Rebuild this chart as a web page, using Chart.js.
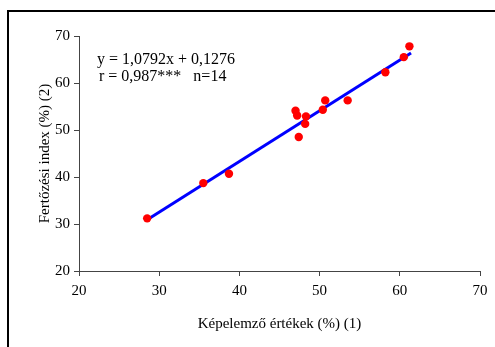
<!DOCTYPE html>
<html>
<head>
<meta charset="utf-8">
<script src="https://cdn.jsdelivr.net/npm/chart.js@4"></script>
<style>
  html, body { margin: 0; padding: 0; background: #fff; overflow: hidden; }
  #frame {
    position: absolute; left: 7px; top: 10px; width: 600px; height: 500px;
    border-left: 2px solid #000; border-top: 2px solid #000;
  }
  #wrap { position: absolute; left: 0; top: 0; width: 495px; height: 347px; }
</style>
</head>
<body>
<div id="frame"></div>
<div id="wrap"><canvas id="chart" width="495" height="347"></canvas></div>
<script>
// Measured points: image analysis value (x) vs infection index (y)
const xValues = [28.5, 35.5, 38.7, 47.0, 47.2, 47.4, 48.3, 48.2, 50.4, 50.7, 53.5, 58.2, 60.5, 61.2];
const yValues = [31.2, 38.7, 40.7, 54.1, 53.1, 48.5, 52.9, 51.3, 54.3, 56.3, 56.3, 62.3, 65.5, 67.8];

// Trend line ends
const fitX = [28.5, 61.4];
const fitY = [30.9, 66.4];

const xTicks = [20, 30, 40, 50, 60, 70];
const yTicks = [20, 30, 40, 50, 60, 70];

const equationText = 'y = 1,0792x + 0,1276';
const statsText = 'r = 0,987***   n=14';

const serif = '"Liberation Serif", "Times New Roman", serif';

const points = xValues.map((x, i) => ({ x: x, y: yValues[i] }));
const fitLine = fitX.map((x, i) => ({ x: x, y: fitY[i] }));

// Equation text in the upper left of the plot
const equationPlugin = {
    id: 'equation',
    afterDraw(chart) {
        const ctx = chart.ctx;
        ctx.save();
        ctx.fillStyle = '#000';
        ctx.font = '16px ' + serif;
        ctx.textBaseline = 'middle';
        ctx.textAlign = 'left';
        ctx.fillText(equationText, 97, 60);
        ctx.fillText(statsText, 99, 77);
        ctx.restore();
    }
};

const ctx = document.getElementById('chart');
new Chart(ctx, {
    type: 'scatter',
    data: {
        datasets: [{
            type: 'line',
            data: fitLine,
            borderColor: '#0000ff',
            borderWidth: 3,
            pointRadius: 0,
            fill: false,
            order: 2
        }, {
            data: points,
            backgroundColor: '#ff0000',
            borderWidth: 0,
            pointRadius: 4.2,
            order: 1
        }]
    },
    options: {
        responsive: false,
        animation: false,
        events: [],
        layout: { padding: { left: 0, top: 36, right: 15, bottom: 0 } },
        plugins: {
            legend: { display: false },
            tooltip: { enabled: false }
        },
        scales: {
            x: {
                type: 'linear',
                min: 20,
                max: 70,
                afterBuildTicks: (scale) => { scale.ticks = xTicks.map(v => ({ value: v })); },
                afterFit: (scale) => { scale.height = 76; },
                grid: { display: true, drawOnChartArea: false, drawTicks: true, tickLength: 5, color: '#444' },
                border: { display: true, color: '#444', width: 1 },
                ticks: { color: '#000', padding: 6, font: { family: serif, size: 15 } },
                title: {
                    display: true,
                    text: 'Képelemző értékek (%) (1)',
                    color: '#000',
                    font: { family: serif, size: 15 },
                    padding: { top: 0, bottom: 14 }
                }
            },
            y: {
                type: 'linear',
                min: 20,
                max: 70,
                afterBuildTicks: (scale) => { scale.ticks = yTicks.map(v => ({ value: v })); },
                afterFit: (scale) => { scale.width = 79; },
                grid: { display: true, drawOnChartArea: false, drawTicks: true, tickLength: 5, color: '#444' },
                border: { display: true, color: '#444', width: 1 },
                ticks: { color: '#000', padding: 4, font: { family: serif, size: 15 } },
                title: {
                    display: true,
                    text: 'Fertőzési index (%) (2)',
                    color: '#000',
                    font: { family: serif, size: 15 },
                    padding: { top: 36, bottom: 0 }
                }
            }
        }
    },
    plugins: [equationPlugin]
});
</script>
</body>
</html>
